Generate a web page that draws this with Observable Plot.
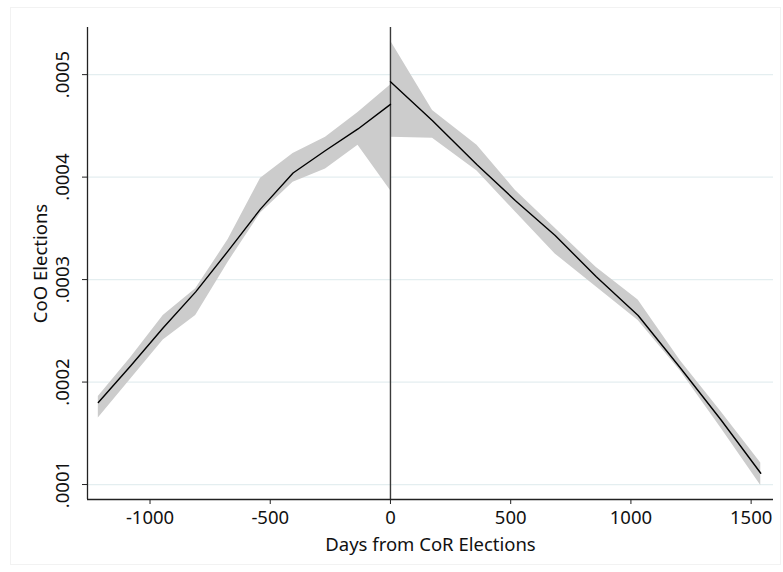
<!DOCTYPE html>
<html>
<head>
<meta charset="utf-8">
<script src="https://cdn.jsdelivr.net/npm/d3@7"></script>
<script src="https://cdn.jsdelivr.net/npm/@observablehq/plot@0.6"></script>
<style>
  html, body { margin: 0; padding: 0; background: #fff; }
  #wrap { position: relative; width: 783px; height: 572px; }
  #border { position: absolute; left: 10px; top: 7px; width: 771px; height: 558px; border: 1px solid #f2f2f2; box-sizing: border-box; pointer-events: none; }
</style>
</head>
<body>
<div id="wrap"><div id="border"></div><div id="chart"></div></div>
<script>
// Pre-election segment (days before CoR elections)
const daysBefore = [-1215, -1080, -945, -810, -675, -540, -405, -270, -135, 0];
const estBefore  = [0.000180, 0.000216, 0.000253, 0.000288, 0.000328, 0.000369, 0.000404, 0.000426, 0.000447, 0.000471];
const hiBefore   = [0.000186, 0.000224, 0.000265, 0.000291, 0.000339, 0.000399, 0.000423, 0.000439, 0.000463, 0.000490];
const loBefore   = [0.000165, 0.000203, 0.000241, 0.000265, 0.000317, 0.000365, 0.000395, 0.000408, 0.000431, 0.000387];

// Post-election segment (days after CoR elections)
const daysAfter = [0, 175, 360, 520, 685, 855, 1030, 1205, 1375, 1540];
const estAfter  = [0.000493, 0.000455, 0.000412, 0.000377, 0.000343, 0.000303, 0.000265, 0.000214, 0.000163, 0.000111];
const hiAfter   = [0.000533, 0.000465, 0.000431, 0.000387, 0.000350, 0.000312, 0.000280, 0.000221, 0.000171, 0.000121];
const loAfter   = [0.000439, 0.000438, 0.000406, 0.000366, 0.000325, 0.000293, 0.000260, 0.000211, 0.000155, 0.000099];

const xTicks = [-1000, -500, 0, 500, 1000, 1500];
const yTicks = [0.0001, 0.0002, 0.0003, 0.0004, 0.0005];
const xLabel = "Days from CoR Elections";
const yLabel = "CoO Elections";

const xDomain = [-1260, 1593];
const yDomain = [0.0000854, 0.000546];

const before = daysBefore.map((d, i) => ({day: d, est: estBefore[i], hi: hiBefore[i], lo: loBefore[i]}));
const after  = daysAfter.map((d, i) => ({day: d, est: estAfter[i], hi: hiAfter[i], lo: loAfter[i]}));

const fmtY = d => d3.format(".4f")(d).replace(/^0/, "");
const font = "'Noto Sans', 'Open Sans', sans-serif";

const chart = Plot.plot({
  width: 783,
  height: 572,
  marginLeft: 87,
  marginRight: 10,
  marginTop: 27,
  marginBottom: 73,
  style: {fontFamily: font, fontSize: "18px", color: "#111", background: "transparent"},
  x: {domain: xDomain, axis: null},
  y: {domain: yDomain, axis: null},
  marks: [
    Plot.gridY(yTicks, {stroke: "#e4eef0", strokeOpacity: 1, strokeWidth: 1.2}),
    Plot.areaY(before, {x: "day", y1: "lo", y2: "hi", fill: "#cccccc", fillOpacity: 1}),
    Plot.areaY(after,  {x: "day", y1: "lo", y2: "hi", fill: "#cccccc", fillOpacity: 1}),
    Plot.ruleX([0], {stroke: "#3a3a3a", strokeWidth: 1.4}),
    Plot.line(before, {x: "day", y: "est", stroke: "#000", strokeWidth: 1.4}),
    Plot.line(after,  {x: "day", y: "est", stroke: "#000", strokeWidth: 1.4}),
    Plot.ruleX([xDomain[0]], {stroke: "#222", strokeWidth: 1.3}),
    Plot.ruleY([yDomain[0]], {stroke: "#222", strokeWidth: 1.3}),
    Plot.axisX(xTicks, {tickSize: 5, tickPadding: 6, tickFormat: d => String(d), fontSize: 18.5, label: null, stroke: "#222", fill: "#111"}),
    Plot.axisY(yTicks, {tickSize: 5, tickFormat: () => "", label: null, stroke: "#222"}),
    Plot.text(yTicks, {y: d => d, frameAnchor: "left", dx: -24, rotate: -90, text: fmtY, fontSize: 18.5, textAnchor: "middle", lineAnchor: "middle", fill: "#111"}),
    Plot.text([xLabel], {frameAnchor: "bottom", dy: 46, text: d => d, fontSize: 18.5, textAnchor: "middle", lineAnchor: "middle", fill: "#111"}),
    Plot.text([yLabel], {frameAnchor: "left", dx: -46, rotate: -90, text: d => d, fontSize: 18.5, textAnchor: "middle", lineAnchor: "middle", fill: "#111"})
  ]
});
document.getElementById("chart").appendChild(chart);
</script>
</body>
</html>
